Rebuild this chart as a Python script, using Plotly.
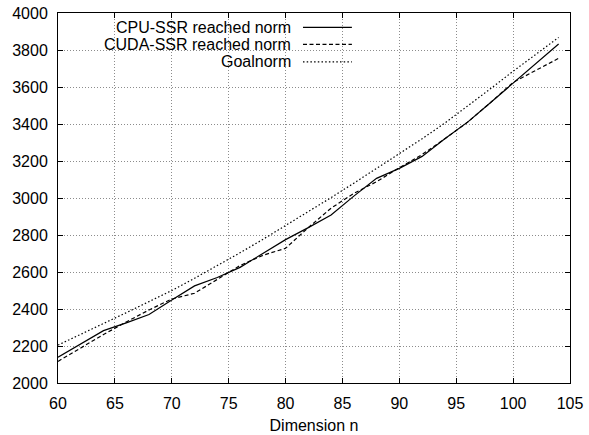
import plotly.graph_objects as go

dims = [60, 62, 64, 66, 68, 70, 72, 74, 76, 78, 80, 82, 84, 86, 88, 90, 92, 94, 96, 98, 100, 102, 104]
cpu_norm = [2139, 2212, 2283, 2325, 2370, 2449, 2525, 2570, 2625, 2700, 2775, 2840, 2908, 3010, 3106,
            3160, 3225, 3320, 3410, 3515, 3620, 3725, 3832]
cuda_norm = [2117, 2190, 2262, 2330, 2395, 2454, 2485, 2560, 2635, 2690, 2728, 2840, 2945, 3025, 3088,
             3164, 3235, 3320, 3410, 3515, 3625, 3690, 3755]
goal_norm = [2205, 2262, 2320, 2380, 2440, 2500, 2566, 2634, 2704, 2776, 2850, 2925, 3002, 3080, 3160,
             3240, 3320, 3405, 3495, 3590, 3685, 3778, 3868]

series_names = ["CPU-SSR reached norm", "CUDA-SSR reached norm", "Goalnorm"]
dash_styles = ["solid", "4px,2.5px", "1.5px,2.2px"]

FONT = "Liberation Sans, Arial, Helvetica, sans-serif"

fig = go.Figure()
for name, vals, dash in zip(series_names, [cpu_norm, cuda_norm, goal_norm], dash_styles):
    fig.add_trace(go.Scatter(x=dims, y=vals, mode="lines", name=name,
                             line=dict(color="black", width=1.2, dash=dash),
                             showlegend=False))

axis_common = dict(
    showline=True, linecolor="black", linewidth=1, mirror="allticks",
    ticks="inside", ticklen=5, tickcolor="black", tickwidth=1,
    showgrid=True, gridcolor="#8c8c8c", gridwidth=1, griddash="1px,2px",
    zeroline=False, tickfont=dict(family=FONT, size=16, color="black"),
    ticklabelstandoff=6, automargin=False,
)

fig.update_xaxes(range=[60, 105], dtick=5, tick0=60,
                 title=dict(text="Dimension n", font=dict(family=FONT, size=16, color="black"), standoff=8),
                 **axis_common)
fig.update_yaxes(range=[2000, 4000], dtick=200, tick0=2000, **axis_common)

# legend (manual, text right-aligned with sample to the right, as in the reference)
fig.add_shape(type="rect", xref="paper", yref="paper", x0=0.0, x1=0.586, y0=0.838, y1=1.0,
              fillcolor="white", line=dict(width=0), layer="between")
rows_y = [0.961, 0.915, 0.868]
for name, dash, yy in zip(series_names, dash_styles, rows_y):
    fig.add_annotation(xref="paper", yref="paper", x=0.459, y=yy, text=name, showarrow=False,
                       xanchor="right", yanchor="middle",
                       font=dict(family=FONT, size=16, color="black"))
    fig.add_shape(type="line", xref="paper", yref="paper", x0=0.4785, x1=0.574, y0=yy, y1=yy,
                  line=dict(color="black", width=1.2, dash=dash))

fig.update_layout(
    width=589, height=435,
    margin=dict(l=58, r=19, t=13, b=52),
    paper_bgcolor="white", plot_bgcolor="white",
    font=dict(family=FONT, size=16, color="black"),
    showlegend=False,
)

fig.write_html("out.html")
